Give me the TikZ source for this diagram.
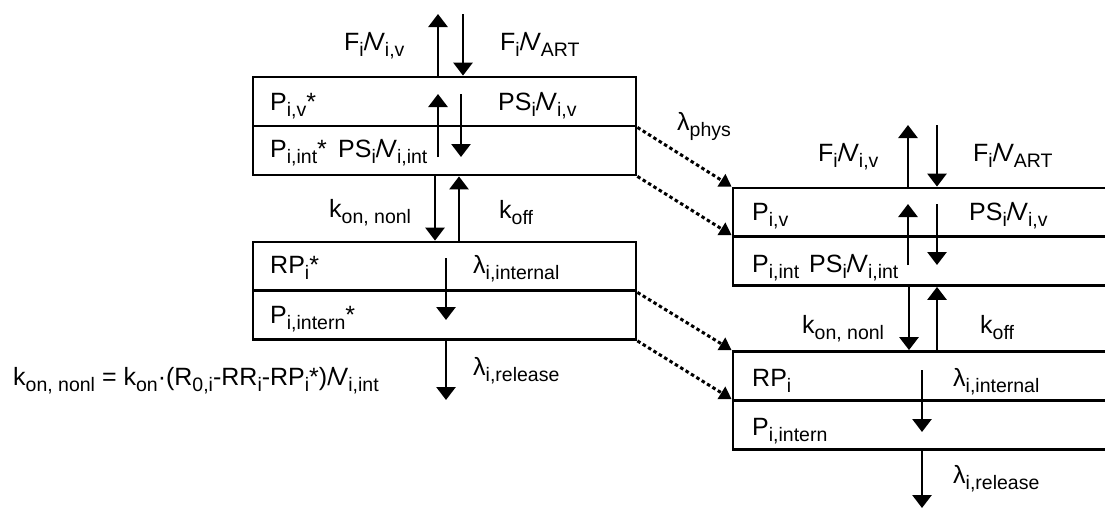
\documentclass[tikz,border=0pt]{standalone}
\usepackage{fontspec}
\setmainfont{Liberation Sans}
\usetikzlibrary{arrows.meta}
\newcommand{\lo}[1]{\raisebox{-6pt}{\fontsize{19.5}{21}\selectfont #1}}
\newcommand{\per}{/\kern-2.5pt}
\tikzset{
  % Box styles
  compbox/.style={rectangle, draw, line width=2.8pt, minimum width=383pt, minimum height=49pt, inner sep=0pt},
  % Arrow styles
  flowarrow/.style={-{Triangle[length=13pt,width=19pt]}, line width=2.8pt},
  dotarrow/.style={-{Triangle[length=12pt,width=14pt]}, line width=3pt, dash pattern=on 3.5pt off 2.8pt},
  % Label styles
  lbl/.style={anchor=base west, inner sep=0pt, font=\fontsize{25}{28}\selectfont}
}

\begin{document}
\begin{tikzpicture}[x=1pt,y=-1pt]
  \useasboundingbox (0,0) rectangle (1105,509);

  % Compartments, left
  \node[compbox] (vA) at (444.5,101.5) {};
  \node[compbox] (intA) at (444.5,150.5) {};
  \node[compbox] (rpA) at (444.5,266.5) {};
  \node[compbox] (pinA) at (444.5,315) {};

  % Compartments, right
  \node[compbox, minimum width=400pt] (vB) at (933,212.5) {};
  \node[compbox, minimum width=400pt] (intB) at (933,261) {};
  \node[compbox, minimum width=400pt] (rpB) at (933,376) {};
  \node[compbox, minimum width=400pt] (pinB) at (933,425) {};

  % Labels, left
  \node[lbl] (fvA) at (344,50) {F\lo{i}\per V\lo{i,v}};
  \node[lbl] (fartA) at (500,50) {F\lo{i}\per V\lo{ART}};
  \node[lbl] (pvA) at (270,110) {P\lo{i,v}*};
  \node[lbl] (psvA) at (498,110) {PS\lo{i}\per V\lo{i,v}};
  \node[lbl] (pintA) at (270,157) {P\lo{i,int}*};
  \node[lbl] (psintA) at (338,157) {PS\lo{i}\per V\lo{i,int}};
  \node[lbl] (konA) at (329,217) {k\lo{on, nonl}};
  \node[lbl] (koffA) at (499,218) {k\lo{off}};
  \node[lbl] (rplA) at (270,273) {RP\lo{i}*};
  \node[lbl] (lintA) at (473,273) {λ\lo{i,internal}};
  \node[lbl] (pinlA) at (270,323) {P\lo{i,intern}*};
  \node[lbl] (lrelA) at (473,375) {λ\lo{i,release}};
  \node[lbl] (kdef) at (13,385) {k\lo{on, nonl} = k\lo{on}·(R\lo{0,i}-RR\lo{i}-RP\lo{i}*)\per V\lo{i,int}};
  \node[lbl] (lphys) at (677,130) {λ\lo{phys}};

  % Labels, right
  \node[lbl] (fvB) at (818,161) {F\lo{i}\per V\lo{i,v}};
  \node[lbl] (fartB) at (973,161) {F\lo{i}\per V\lo{ART}};
  \node[lbl] (pvB) at (752,220) {P\lo{i,v}};
  \node[lbl] (psvB) at (969,220) {PS\lo{i}\per V\lo{i,v}};
  \node[lbl] (pintB) at (752,272) {P\lo{i,int}};
  \node[lbl] (psintB) at (809,272) {PS\lo{i}\per V\lo{i,int}};
  \node[lbl] (konB) at (802,333) {k\lo{on, nonl}};
  \node[lbl] (koffB) at (980,333) {k\lo{off}};
  \node[lbl] (rplB) at (752,386) {RP\lo{i}};
  \node[lbl] (lintB) at (953,386) {λ\lo{i,internal}};
  \node[lbl] (pinlB) at (752,435) {P\lo{i,intern}};
  \node[lbl] (lrelB) at (953,483) {λ\lo{i,release}};

  % Flows, left
  \coordinate (outA) at (438,14);
  \coordinate (inA) at (463,14);
  \draw[flowarrow] (outA |- vA.north) -- (outA);
  \draw[flowarrow] (inA) -- (inA |- vA.north);
  \coordinate (exupA) at (438,94);
  \coordinate (exdnA) at (461,157);
  \draw[flowarrow] (exupA |- exdnA) -- (exupA);
  \draw[flowarrow] (exdnA |- exupA) -- (exdnA);
  \coordinate (bindA) at (435,0);
  \coordinate (offA) at (459,0);
  \draw[flowarrow] (bindA |- intA.south) -- (bindA |- rpA.north);
  \draw[flowarrow] (offA |- rpA.north) -- (offA |- intA.south);
  \coordinate (intzA) at (446,258);
  \coordinate (intzendA) at (446,320);
  \draw[flowarrow] (intzA) -- (intzendA);
  \coordinate (relA) at (446,400);
  \draw[flowarrow] (relA |- pinA.south) -- (relA);

  % Flows, right
  \coordinate (outB) at (908,125);
  \coordinate (inB) at (937,125);
  \draw[flowarrow] (outB |- vB.north) -- (outB);
  \draw[flowarrow] (inB) -- (inB |- vB.north);
  \coordinate (exupB) at (908,204);
  \coordinate (exdnB) at (937,265);
  \draw[flowarrow] (exupB |- exdnB) -- (exupB);
  \draw[flowarrow] (exdnB |- exupB) -- (exdnB);
  \coordinate (bindB) at (909,0);
  \coordinate (offB) at (937,0);
  \draw[flowarrow] (bindB |- intB.south) -- (bindB |- rpB.north);
  \draw[flowarrow] (offB |- rpB.north) -- (offB |- intB.south);
  \coordinate (intzB) at (922,370);
  \coordinate (intzendB) at (922,432);
  \draw[flowarrow] (intzB) -- (intzendB);
  \coordinate (relB) at (922,508);
  \draw[flowarrow] (relB |- pinB.south) -- (relB);

  % Physiological transfer
  \draw[dotarrow] (vA.south east) -- (vB.north west);
  \draw[dotarrow] (intA.south east) -- (intB.north west);
  \draw[dotarrow] (rpA.south east) -- (rpB.north west);
  \draw[dotarrow] (pinA.south east) -- (pinB.north west);
\end{tikzpicture}
\end{document}
